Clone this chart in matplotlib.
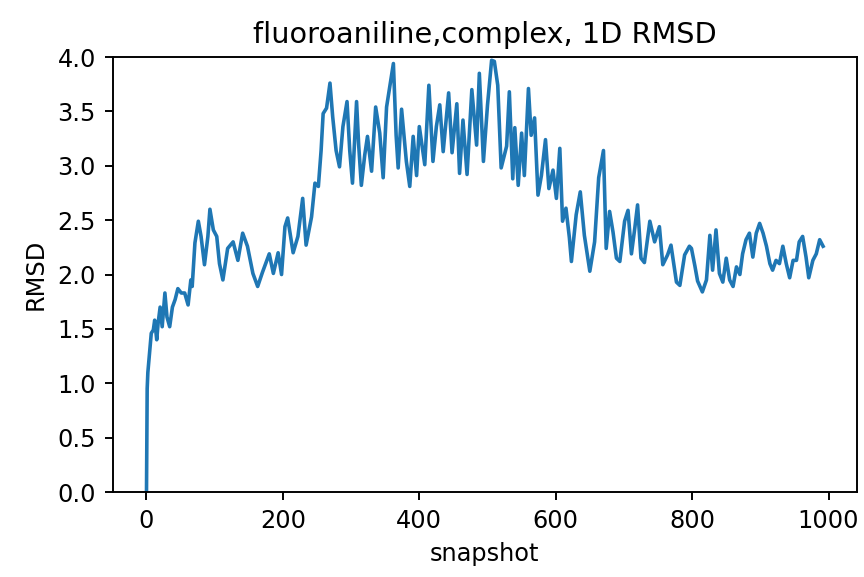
import numpy as np
import matplotlib
matplotlib.use("Agg")
import matplotlib.pyplot as plt

# snapshot index and RMSD
snapshot = [0, 1, 2, 5, 7, 10, 12, 15, 17, 20, 23, 27, 30, 34, 38, 42, 46, 51, 56, 61,
            65, 67, 71, 76, 80, 85, 90, 93, 98, 103, 107, 112, 119, 127, 134, 141, 148, 156, 163, 170,
            180, 186, 193, 198, 203, 207, 215, 222, 229, 234, 242, 247, 252, 256, 259, 264, 269, 273, 278, 283,
            288, 294, 298, 302, 308, 311, 315, 320, 324, 330, 336, 342, 347, 352, 357, 362, 366, 369, 374, 381,
            386, 391, 396, 400, 408, 414, 420, 425, 430, 435, 443, 448, 455, 459, 464, 470, 477, 484, 488, 494,
            500, 506, 510, 515, 520, 528, 532, 537, 540, 545, 550, 554, 560, 564, 569, 574, 579, 585, 590, 596,
            601, 606, 610, 615, 620, 623, 630, 636, 642, 650, 657, 663, 670, 674, 679, 684, 689, 694, 701, 706,
            711, 716, 720, 725, 730, 738, 745, 752, 757, 764, 769, 777, 782, 789, 796, 799, 804, 808, 815, 821,
            826, 830, 835, 840, 845, 850, 855, 860, 865, 870, 874, 879, 884, 889, 894, 899, 904, 909, 914, 918,
            923, 928, 933, 938, 943, 948, 953, 957, 962, 967, 971, 977, 982, 987, 992]
rmsd = [0.00, 0.95, 1.10, 1.31, 1.46, 1.49, 1.58, 1.40, 1.55, 1.70, 1.52, 1.83, 1.61, 1.52, 1.70, 1.77, 1.87, 1.83, 1.83, 1.72,
        1.95, 1.89, 2.29, 2.49, 2.35, 2.09, 2.35, 2.60, 2.41, 2.35, 2.10, 1.95, 2.24, 2.30, 2.13, 2.38, 2.26, 2.01, 1.89, 2.02,
        2.19, 2.01, 2.20, 2.00, 2.44, 2.52, 2.20, 2.35, 2.70, 2.27, 2.53, 2.84, 2.81, 3.14, 3.48, 3.53, 3.76, 3.45, 3.14, 2.99,
        3.36, 3.59, 3.14, 2.84, 3.59, 3.20, 2.82, 3.10, 3.27, 2.95, 3.54, 3.30, 2.89, 3.54, 3.74, 3.94, 3.28, 2.98, 3.52, 3.04,
        2.81, 3.27, 2.91, 3.36, 3.01, 3.74, 3.04, 3.36, 3.56, 3.13, 3.67, 3.12, 3.57, 2.93, 3.42, 2.92, 3.70, 3.19, 3.85, 3.04,
        3.56, 3.97, 3.96, 3.74, 2.98, 3.18, 3.68, 2.88, 3.35, 2.82, 3.30, 2.91, 3.71, 3.28, 3.44, 2.73, 2.91, 3.24, 2.79, 2.96,
        2.70, 3.16, 2.49, 2.61, 2.34, 2.12, 2.55, 2.76, 2.36, 2.03, 2.30, 2.89, 3.14, 2.24, 2.58, 2.39, 2.15, 2.12, 2.49, 2.59,
        2.19, 2.43, 2.64, 2.15, 2.11, 2.49, 2.30, 2.44, 2.09, 2.18, 2.27, 1.93, 1.90, 2.18, 2.26, 2.24, 2.08, 1.94, 1.84, 1.95,
        2.36, 2.04, 2.41, 2.01, 1.93, 2.15, 1.95, 1.89, 2.07, 2.00, 2.19, 2.32, 2.38, 2.16, 2.38, 2.47, 2.38, 2.26, 2.10, 2.04,
        2.13, 2.10, 2.26, 2.10, 1.97, 2.13, 2.13, 2.30, 2.35, 2.16, 1.97, 2.13, 2.19, 2.32, 2.26]

dpi = 172.8
fig = plt.figure(figsize=(864 / dpi, 577 / dpi), dpi=dpi)
ax = fig.add_axes([0.1304, 0.1473, 0.8614, 0.7539])
ax.plot(snapshot, rmsd, color='#1f77b4')
ax.set_ylim(0, 4.0)
ax.set_xlabel("snapshot")
ax.set_ylabel("RMSD")
ax.set_title("fluoroaniline,complex, 1D RMSD")
fig.savefig("out.png", dpi=dpi)
